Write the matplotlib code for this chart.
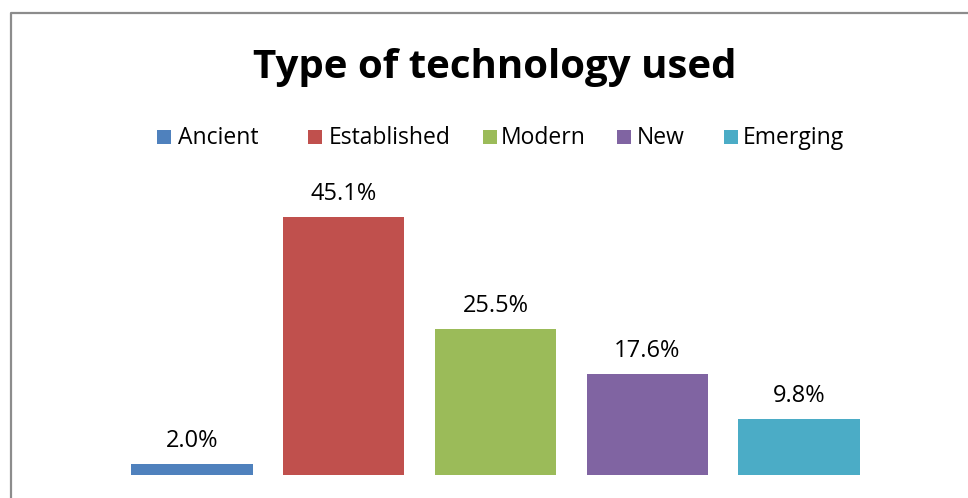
import matplotlib
matplotlib.use("Agg")
import matplotlib.pyplot as plt
from matplotlib.patches import Rectangle
from matplotlib.lines import Line2D

categories = ["Ancient", "Established", "Modern", "New", "Emerging"]
values = [2.0, 45.1, 25.5, 17.6, 9.8]
labels = ["2.0%", "45.1%", "25.5%", "17.6%", "9.8%"]
colors = ["#4F81BD", "#C0504D", "#9BBB59", "#8064A2", "#4BACC6"]
title = "Type of technology used"

W, H = 968, 498
plt.rcParams['font.family'] = ['Open Sans', 'DejaVu Sans']
fig = plt.figure(figsize=(W / 100, H / 100), dpi=100)
fig.patch.set_facecolor("white")

# plot area (pixels): x 116..875, y baseline 475, 5.72 px per unit
ax_left, ax_right = 116, 875
ax_bottom, ax_top = 475, 180
px_per_unit = 5.72
ax = fig.add_axes([ax_left / W, (H - ax_bottom) / H,
                   (ax_right - ax_left) / W, (ax_bottom - ax_top) / H])
ax.set_xlim(-0.5, len(categories) - 0.5)
ax.set_ylim(0, (ax_bottom - ax_top) / px_per_unit)
xs = list(range(len(categories)))
bars = ax.bar(xs, values, width=0.8, color=colors)
for x, v, lab in zip(xs, values, labels):
    ax.annotate(lab, (x, v), xytext=(0, 12.2), textcoords="offset points",
                ha="center", va="baseline", fontsize=17, color="#000000")
ax.axis("off")

# title
fig.text(495 / W, 1 - 78 / H, title, ha="center", va="baseline",
         fontsize=29, fontweight="bold", color="#000000")

# legend (manual placement to mimic Excel)
sq_x = [157, 308, 483, 617, 724]
txt_x = [178, 329, 501, 637, 743]
sq = 14
for sx, tx, name, c in zip(sq_x, txt_x, categories, colors):
    fig.patches.append(Rectangle((sx / W, 1 - 144 / H), sq / W, sq / H,
                                 transform=fig.transFigure, facecolor=c,
                                 edgecolor="none"))
    fig.text(tx / W, 1 - 144 / H, name, ha="left", va="baseline",
             fontsize=16.5, color="#000000")

# chart border (top and left visible)
fig.lines.append(Line2D([10.5 / W, 10.5 / W, 1.0], [0.0, 1 - 13.5 / H, 1 - 13.5 / H],
                        transform=fig.transFigure, color="#8C8C8C", linewidth=1.6))

fig.savefig("out.png", dpi=100)
